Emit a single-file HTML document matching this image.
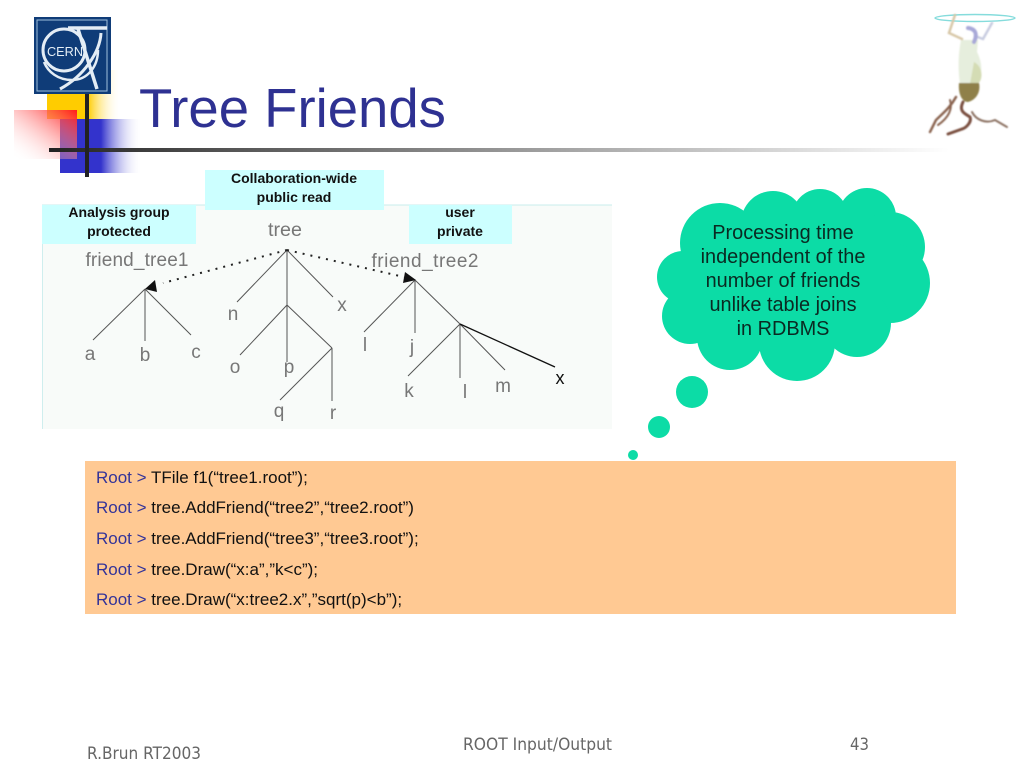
<!DOCTYPE html>
<html>
<head>
<meta charset="utf-8">
<style>
html,body{margin:0;padding:0;background:#fff;width:1024px;height:768px;overflow:hidden}
svg{display:block}
text{font-family:"Liberation Sans",sans-serif}
</style>
</head>
<body>
<svg width="1024" height="768" viewBox="0 0 1024 768" xmlns="http://www.w3.org/2000/svg">
<defs>
<linearGradient id="y" x1="0" x2="1" y1="0" y2="0"><stop offset="0" stop-color="#ffcc00"/><stop offset=".55" stop-color="#ffcc00"/><stop offset="1" stop-color="#fff" stop-opacity="0"/></linearGradient>
<linearGradient id="b" x1="0" x2="1" y1="0" y2="0"><stop offset="0" stop-color="#3333cc"/><stop offset=".5" stop-color="#3333cc"/><stop offset="1" stop-color="#fff" stop-opacity="0"/></linearGradient>
<linearGradient id="r" x1="1" x2="0" y1="0" y2="1"><stop offset="0" stop-color="#ff1a1a"/><stop offset="1" stop-color="#fff" stop-opacity="0"/></linearGradient>
<linearGradient id="l" x1="0" x2="1" y1="0" y2="0"><stop offset="0" stop-color="#222"/><stop offset=".2" stop-color="#555"/><stop offset="1" stop-color="#fff"/></linearGradient>
<filter id="soft" x="-10%" y="-10%" width="120%" height="120%"><feGaussianBlur stdDeviation="0.7"/></filter>
</defs>

<!-- decoration -->
<rect x="47" y="70" width="74" height="49" fill="url(#y)"/>
<rect x="60" y="119" width="82" height="54" fill="url(#b)"/>
<rect x="14" y="110" width="63" height="49" fill="url(#r)"/>
<rect x="49" y="148" width="900" height="4" fill="url(#l)"/>
<rect x="85" y="93" width="4" height="84" fill="#222"/>

<!-- CERN logo -->
<rect x="34" y="17" width="77" height="77" fill="#0f3c78"/>
<rect x="37" y="20" width="70" height="71" fill="none" stroke="#9fc0dc" stroke-width="1"/>
<g fill="none" stroke="#e4edf5">
<circle cx="64" cy="50" r="21" stroke-width="3"/>
<path d="M68 28H107" stroke-width="3.5"/>
<path d="M78 29L97 89" stroke-width="3.5"/>
<path d="M101 33C100 52 84 76 60 89" stroke-width="3"/>
<path d="M44 62C48 72 58 80 72 80C88 80 98 66 98 50" stroke-width="2.5"/>
</g>
<text x="65" y="56" text-anchor="middle" font-size="13" fill="#e4eef6" textLength="36" lengthAdjust="spacingAndGlyphs">CERN</text>

<!-- title -->
<text x="139" y="127" font-size="54.5" fill="#2e3192">Tree Friends</text>

<!-- figure top right -->
<ellipse cx="975" cy="18" rx="40" ry="3.5" fill="none" stroke="#86dcdc" stroke-width="1.4"/>
<g filter="url(#soft)">
<path d="M961 40C958 55 958 70 960 84L978 84C983 72 982 62 977 52L978 40Z" fill="#e6eedd"/>
<path d="M974 62C982 66 984 78 978 84L970 84Z" fill="#d4dcb4"/>
<path d="M959 83L979 83C981 92 976 100 968 102C962 102 958 94 959 83Z" fill="#8f8048"/>
<g fill="none" stroke-linecap="round">
<path d="M955 15L949 33L962 39" stroke="#d8c8a8" stroke-width="2.5"/>
<path d="M992 23L983 39L975 36" stroke="#c8cce0" stroke-width="2.5"/>
<path d="M968 28C977 29 977 36 974 42" stroke="#a8a8d8" stroke-width="4"/>
<path d="M956 97C950 108 942 114 936 120L930 132" stroke="#8a6450" stroke-width="2.5"/>
<path d="M950 100C953 110 948 118 938 125" stroke="#8a6450" stroke-width="2"/>
<path d="M963 102C958 112 966 114 970 117C972 122 966 128 962 129L948 134" stroke="#7a5040" stroke-width="3"/>
<path d="M972 112C976 120 986 124 995 120L1007 127" stroke="#8a7060" stroke-width="2"/>
</g>
</g>

<!-- diagram panel -->
<rect x="42" y="205" width="570" height="224" fill="#f8fbf9"/>
<path d="M42 205H612" stroke="#c8ecec" stroke-width="1" fill="none"/>
<path d="M42.5 205V429" stroke="#cfeeee" stroke-width="1" fill="none"/>
<rect x="205" y="170" width="179" height="40" fill="#ccffff"/>
<rect x="42" y="205" width="154" height="39" fill="#ccffff"/>
<rect x="409" y="205" width="103" height="39" fill="#ccffff"/>
<g font-size="14" font-weight="bold" fill="#111" text-anchor="middle">
<text x="294" y="183">Collaboration-wide</text>
<text x="294" y="202">public read</text>
<text x="119" y="217">Analysis group</text>
<text x="119" y="236">protected</text>
<text x="460" y="217">user</text>
<text x="460" y="236">private</text>
</g>

<!-- tree lines -->
<g stroke="#555" stroke-width="1" fill="none">
<path d="M287 250L237 302M287 250V362M287 250L333 297M287 305L240 355M287 305L332 348M332 348L280 400M332 348V401"/>
<path d="M145 289L93 340M145 289V341M145 289L191 335"/>
<path d="M415 280L364 332M415 280V333M415 280L460 324M460 324L408 376M460 324V378M460 324L505 370"/>
</g>
<path d="M460 324L555 367" stroke="#111" stroke-width="1.3" fill="none"/>
<path d="M287 250L163 283" stroke="#222" stroke-width="2" stroke-dasharray="2 6" fill="none"/>
<path d="M287 250L404 277" stroke="#222" stroke-width="2" stroke-dasharray="2 6" fill="none"/>
<path d="M145 289L155 280L157 292Z" fill="#111"/>
<path d="M416 280L405 272L403 283Z" fill="#111"/>

<!-- tree labels -->
<g font-size="19" fill="#777" text-anchor="middle">
<text x="285" y="236" textLength="34" lengthAdjust="spacingAndGlyphs">tree</text>
<text x="137" y="266" textLength="103" lengthAdjust="spacing">friend_tree1</text>
<text x="425" y="267" textLength="107" lengthAdjust="spacing">friend_tree2</text>
<text x="90" y="360">a</text><text x="145" y="361">b</text><text x="196" y="358">c</text>
<text x="233" y="320">n</text><text x="342" y="311">x</text>
<text x="235" y="373">o</text><text x="289" y="373">p</text>
<text x="279" y="417">q</text><text x="333" y="419">r</text>
<text x="365" y="351">l</text><text x="412" y="353">j</text>
<text x="409" y="397">k</text><text x="465" y="398">l</text><text x="503" y="392">m</text>
</g>
<text x="560" y="384" font-size="18" fill="#111" text-anchor="middle">x</text>

<!-- cloud -->
<g fill="#0cdca6">
<circle cx="720" cy="243" r="40"/>
<circle cx="773" cy="223" r="32"/>
<circle cx="820" cy="217" r="28"/>
<circle cx="867" cy="217" r="29"/>
<circle cx="890" cy="247" r="35"/>
<circle cx="890" cy="283" r="40"/>
<circle cx="857" cy="323" r="34"/>
<circle cx="797" cy="343" r="38"/>
<circle cx="730" cy="337" r="33"/>
<circle cx="690" cy="316" r="28"/>
<circle cx="683" cy="277" r="26"/>
<rect x="700" y="220" width="180" height="120"/>
<circle cx="692" cy="392" r="16"/>
<circle cx="659" cy="427" r="11"/>
<circle cx="633" cy="455" r="5"/>
</g>
<g font-size="19.9" fill="#0a2a22" text-anchor="middle">
<text x="783" y="239">Processing time</text>
<text x="783" y="263">independent of the</text>
<text x="783" y="287">number of friends</text>
<text x="783" y="311">unlike table joins</text>
<text x="783" y="335">in RDBMS</text>
</g>

<!-- code box -->
<rect x="85" y="461" width="871" height="153" fill="#ffc993"/>
<g font-size="17" fill="#111">
<text x="96" y="483"><tspan fill="#333399">Root &gt;</tspan> TFile f1(“tree1.root”);</text>
<text x="96" y="513"><tspan fill="#333399">Root &gt;</tspan> tree.AddFriend(“tree2”,“tree2.root”)</text>
<text x="96" y="544"><tspan fill="#333399">Root &gt;</tspan> tree.AddFriend(“tree3”,“tree3.root”);</text>
<text x="96" y="575"><tspan fill="#333399">Root &gt;</tspan> tree.Draw(“x:a”,”k&lt;c”);</text>
<text x="96" y="605"><tspan fill="#333399">Root &gt;</tspan> tree.Draw(“x:tree2.x”,”sqrt(p)&lt;b”);</text>
</g>

<!-- footer -->
<g fill="#666">
<text x="87" y="759" textLength="114" lengthAdjust="spacingAndGlyphs" style="font-family:'DejaVu Sans',sans-serif" font-size="17">R.Brun RT2003</text>
<text x="463" y="750" textLength="149" lengthAdjust="spacingAndGlyphs" style="font-family:'DejaVu Sans',sans-serif" font-size="17">ROOT Input/Output</text>
<text x="850" y="750" textLength="19" lengthAdjust="spacingAndGlyphs" style="font-family:'DejaVu Sans',sans-serif" font-size="17">43</text>
</g>
</svg>
</body>
</html>
